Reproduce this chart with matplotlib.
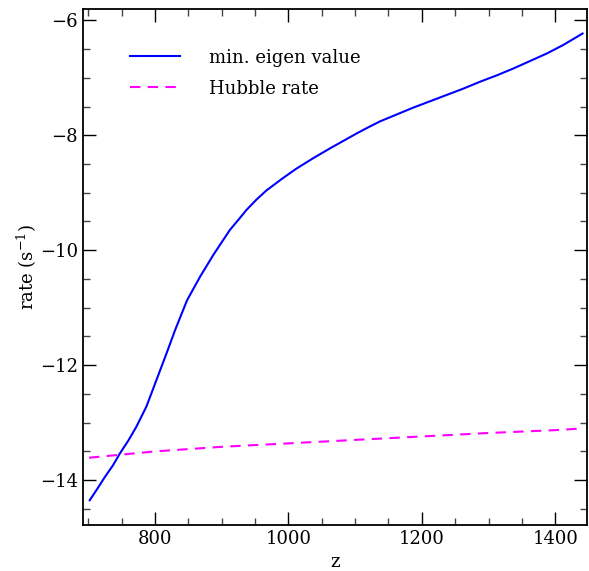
import matplotlib
matplotlib.use('Agg')
import matplotlib.pyplot as plt
from matplotlib.ticker import MultipleLocator

# min. eigen value of the rate matrix
z_eig = [702, 714, 725, 737, 747, 760, 772, 787, 802, 817, 830, 840, 848, 858, 868,
         878, 888, 900, 912, 925, 937, 952, 967, 990, 1012, 1037, 1062, 1082, 1102,
         1120, 1137, 1162, 1187, 1212, 1237, 1262, 1287, 1312, 1337, 1362, 1387,
         1412, 1441]
rate_eig = [-14.35, -14.14, -13.94, -13.74, -13.54, -13.31, -13.07, -12.72, -12.26,
            -11.80, -11.39, -11.10, -10.87, -10.66, -10.45, -10.26, -10.07, -9.86,
            -9.65, -9.47, -9.30, -9.12, -8.96, -8.76, -8.58, -8.40, -8.23, -8.10,
            -7.97, -7.86, -7.76, -7.64, -7.52, -7.41, -7.30, -7.19, -7.07, -6.96,
            -6.84, -6.71, -6.58, -6.43, -6.23]

# Hubble rate
z_hub = [701, 800, 900, 1000, 1100, 1200, 1300, 1400, 1442]
rate_hub = [-13.61, -13.50, -13.42, -13.36, -13.30, -13.24, -13.18, -13.13, -13.10]

plt.rcParams['font.family'] = ['DejaVu Serif']
plt.rcParams['mathtext.fontset'] = 'dejavuserif'

fig = plt.figure(figsize=(5.89, 5.71), dpi=100)
ax = fig.add_axes([0.141, 0.0806, 0.856, 0.903])

ax.plot(z_eig, rate_eig, color='blue', lw=1.5, label='min. eigen value')
ax.plot(z_hub, rate_hub, color='magenta', lw=1.5, ls=(0, (5, 3.5)), label='Hubble rate')

ax.set_xlim(692, 1448)
ax.set_ylim(-14.78, -5.81)
ax.xaxis.set_major_locator(MultipleLocator(200))
ax.xaxis.set_minor_locator(MultipleLocator(50))
ax.yaxis.set_major_locator(MultipleLocator(2))
ax.yaxis.set_minor_locator(MultipleLocator(0.5))
ax.tick_params(which='both', direction='in', top=True, right=True, labelsize=13, width=1.0)
ax.tick_params(which='major', length=9.5)
ax.tick_params(which='minor', length=5, color='#444444')
for s in ax.spines.values():
    s.set_linewidth(1.3)

ax.set_xlabel('z', fontsize=13, labelpad=4)
ax.set_ylabel('rate (s$^{-1}$)', fontsize=13, labelpad=1)

ax.legend(loc='upper left', bbox_to_anchor=(0.06, 0.955), frameon=False, fontsize=13,
          handlelength=2.8, handletextpad=1.6, labelspacing=0.72)

plt.savefig('out.png')
